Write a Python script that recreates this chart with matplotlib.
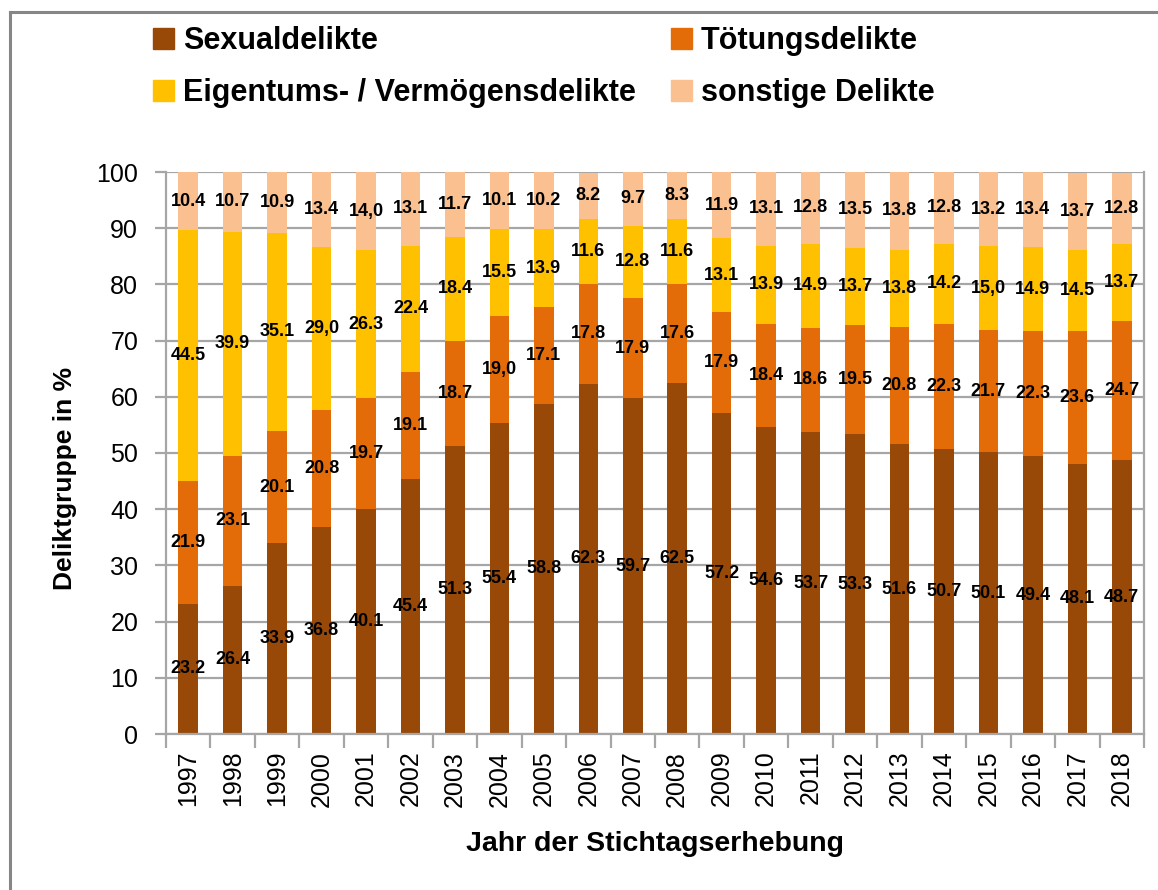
"""Stacked bar chart: Deliktgruppen der Stichtagserhebung 1997-2018."""

import matplotlib

matplotlib.use("Agg")
import matplotlib.pyplot as plt
import numpy as np
from matplotlib.lines import Line2D
from matplotlib.patches import Patch

plt.rcParams["font.family"] = ["Liberation Sans", "DejaVu Sans"]

years = [str(y) for y in range(1997, 2019)]

sexual = [23.2, 26.4, 33.9, 36.8, 40.1, 45.4, 51.3, 55.4, 58.8, 62.3, 59.7,
          62.5, 57.2, 54.6, 53.7, 53.3, 51.6, 50.7, 50.1, 49.4, 48.1, 48.7]
toetung = [21.9, 23.1, 20.1, 20.8, 19.7, 19.1, 18.7, 19.0, 17.1, 17.8, 17.9,
           17.6, 17.9, 18.4, 18.6, 19.5, 20.8, 22.3, 21.7, 22.3, 23.6, 24.7]
eigentum = [44.5, 39.9, 35.1, 29.0, 26.3, 22.4, 18.4, 15.5, 13.9, 11.6, 12.8,
            11.6, 13.1, 13.9, 14.9, 13.7, 13.8, 14.2, 15.0, 14.9, 14.5, 13.7]
sonstige = [10.4, 10.7, 10.9, 13.4, 14.0, 13.1, 11.7, 10.1, 10.2, 8.2, 9.7,
            8.3, 11.9, 13.1, 12.8, 13.5, 13.8, 12.8, 13.2, 13.4, 13.7, 12.8]

series = [
    ("Sexualdelikte", sexual, "#984807"),
    ("Tötungsdelikte", toetung, "#E36C09"),
    ("Eigentums- / Vermögensdelikte", eigentum, "#FFC000"),
    ("sonstige Delikte", sonstige, "#FAC090"),
]


def fmt(v):
    # whole numbers were written with a comma in the source chart
    s = f"{v:.1f}"
    return s.replace(".0", ",0") if s.endswith(".0") else s


W, H = 1158, 890
fig = plt.figure(figsize=(W / 100, H / 100), dpi=100)
ax = fig.add_axes([166 / W, 1 - 734 / H, (1144 - 166) / W, (734 - 172) / H])

grid_col = "#A6A6A6"
x = np.arange(len(years))
bottom = np.zeros(len(years))
for name, vals, color in series:
    bars = ax.bar(x, vals, width=0.44, bottom=bottom, color=color, label=name,
                  zorder=2)
    ax.bar_label(bars, labels=[fmt(v) for v in vals], label_type="center",
                 fontsize=13, fontweight="bold", color="black")
    bottom += np.array(vals)

ax.set_xlim(-0.5, len(years) - 0.5)
ax.set_ylim(0, 100)
ax.set_yticks(range(0, 101, 10))
ax.yaxis.grid(True, color=grid_col, linewidth=1.6, zorder=0)
ax.set_axisbelow(True)

ax.set_xticks(x)
ax.set_xticklabels(years, rotation=90)
ax.set_xticks(np.arange(-0.5, len(years)), minor=True)
ax.tick_params(axis="x", which="major", length=0, pad=12, labelsize=18)
ax.tick_params(axis="x", which="minor", length=10, width=1.6, color=grid_col)
ax.tick_params(axis="y", length=8, width=1.6, color=grid_col, labelsize=18,
               pad=12)
for sp in ax.spines.values():
    sp.set_color(grid_col)
    sp.set_linewidth(1.6)
ax.spines["top"].set_visible(False)

ax.set_xlabel("Jahr der Stichtagserhebung", fontsize=20.5, fontweight="bold")
ax.xaxis.set_label_coords(0.5, -0.172)
fig.text(65 / W, 1 - 478 / H, "Deliktgruppe in %", rotation=90, ha="center",
         va="center", fontsize=19, fontweight="bold")

# legend fills column-wise, so order entries to read row-wise as in the source
order = [0, 2, 1, 3]
handles = [Patch(color=series[i][2]) for i in order]
labels = [series[i][0] for i in order]
fig.legend(handles, labels, ncol=2, loc="upper left",
           bbox_to_anchor=(153 / W, 1 - 26 / H), frameon=False,
           prop={"size": 22, "weight": "bold"}, borderpad=0,
           borderaxespad=0, handlelength=0.7, handleheight=0.7,
           handletextpad=0.28, columnspacing=1.15, labelspacing=0.72)

# outer chart frame (left and top edges visible)
fig.add_artist(Line2D([10 / W, 10 / W], [0, 1 - 12 / H], color="#868686",
                      linewidth=2.2, transform=fig.transFigure))
fig.add_artist(Line2D([10 / W, 1], [1 - 12 / H, 1 - 12 / H], color="#868686",
                      linewidth=2.2, transform=fig.transFigure))

fig.savefig("out.png", dpi=100)
plt.close(fig)
